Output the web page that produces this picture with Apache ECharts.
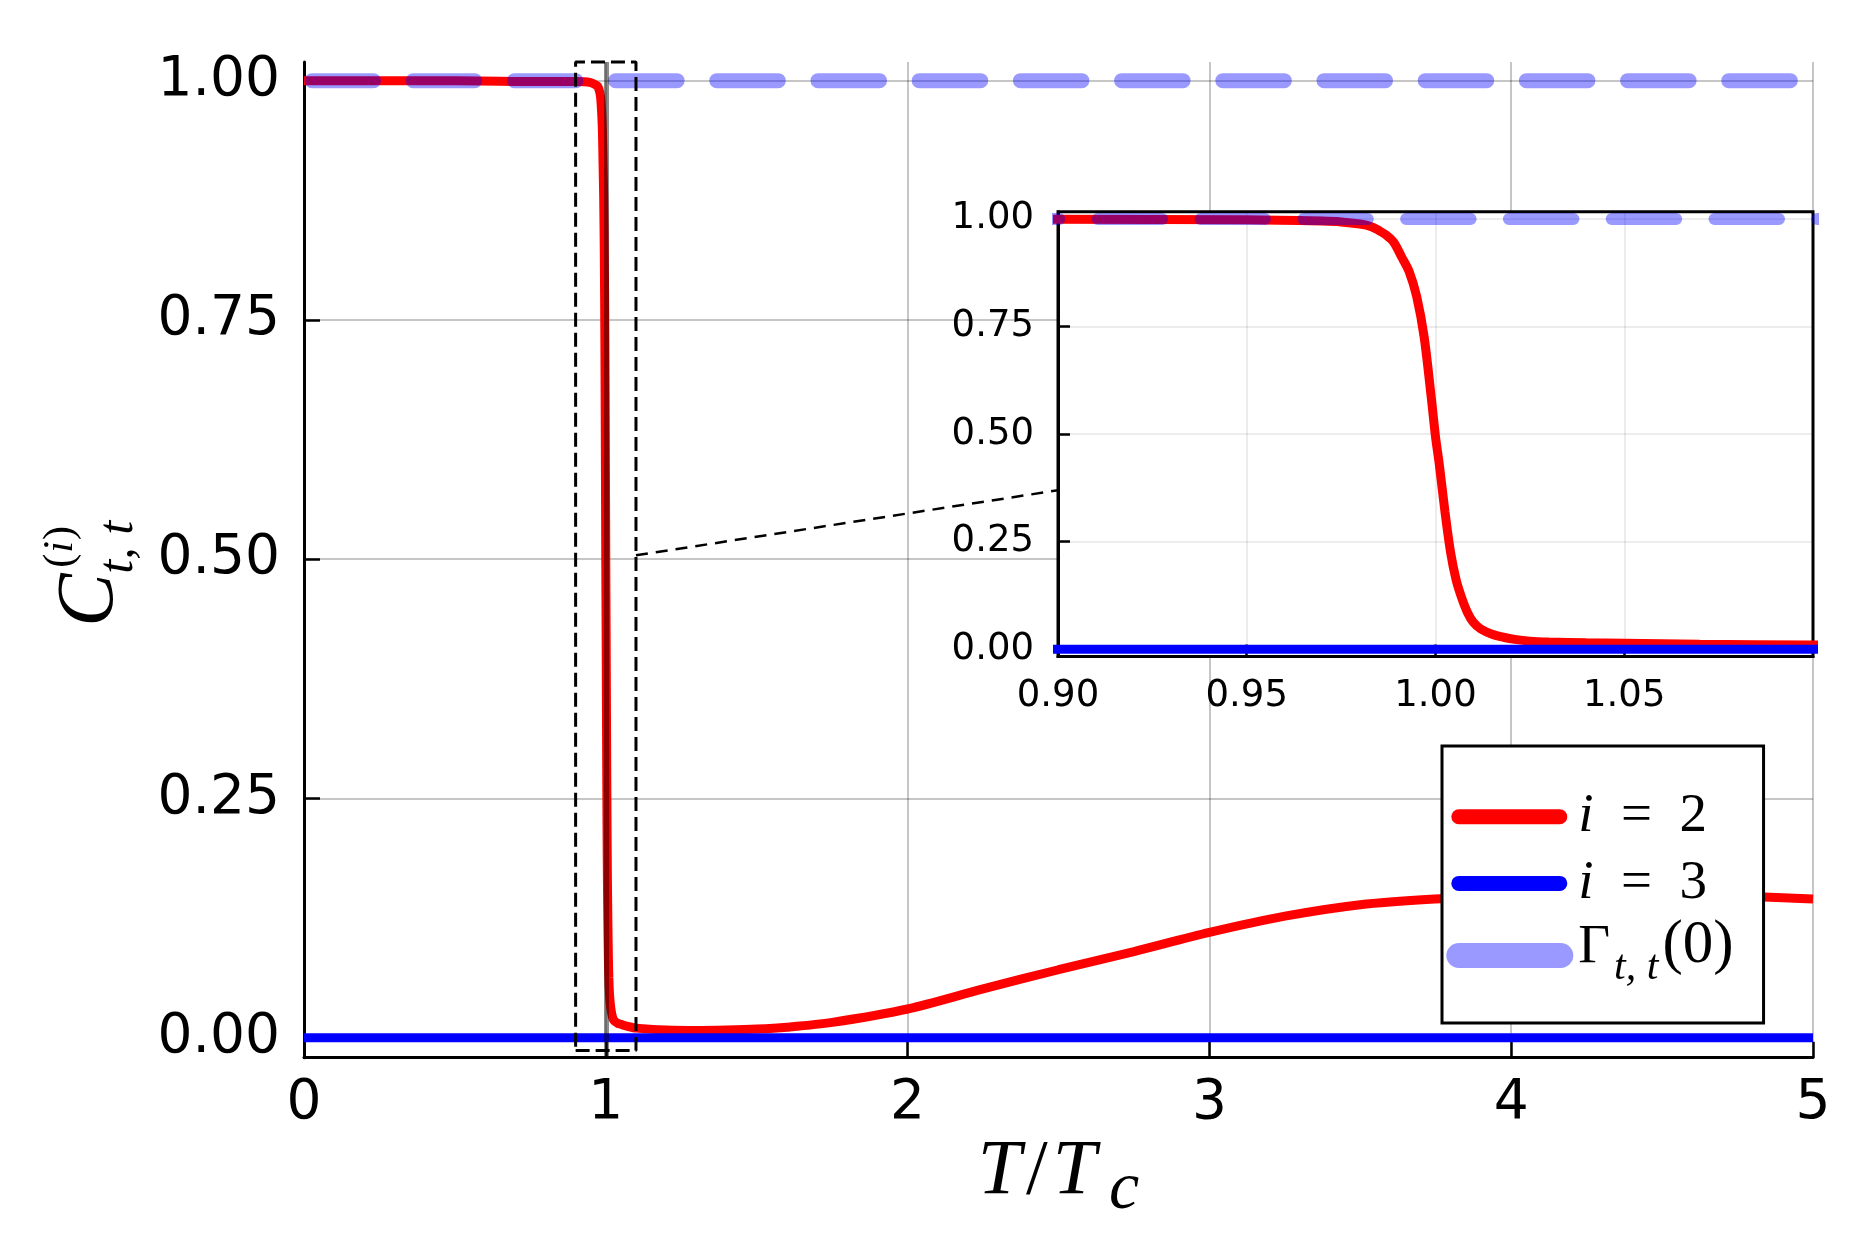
<!DOCTYPE html>
<html><head><meta charset="utf-8">
<script src="https://cdn.jsdelivr.net/npm/echarts@6/dist/echarts.min.js"></script>
<style>html,body{margin:0;padding:0;background:#fff}#c{width:1875px;height:1250px}</style>
</head><body><div id="c"></div><script>
// ---------------- data ----------------
const redX = [0, 0.5, 0.8, 0.9, 0.95, 0.97, 0.975, 0.98, 0.983, 0.985, 0.987, 0.989, 0.991, 0.993, 0.995,
  0.997, 0.999, 1.0, 1.001, 1.0025, 1.004, 1.0055, 1.007, 1.0085, 1.01, 1.012, 1.015, 1.018, 1.021, 1.025,
  1.03, 1.04, 1.05, 1.07, 1.1, 1.2, 1.3, 1.4, 1.5, 1.6, 1.75, 2.0, 2.25, 2.5, 2.75, 3.0, 3.25, 3.5, 3.75,
  4.0, 4.25, 4.5, 4.75, 5.0];
const redY = [1.0, 1.0, 0.999, 0.999, 0.998, 0.995, 0.993, 0.988, 0.982, 0.973, 0.962, 0.945, 0.912, 0.878, 0.82,
  0.725, 0.575, 0.494, 0.43, 0.32, 0.225, 0.16, 0.118, 0.085, 0.063, 0.047, 0.035, 0.028, 0.023, 0.019,
  0.017, 0.015, 0.014, 0.012, 0.010, 0.008, 0.0075, 0.008, 0.009, 0.011, 0.016, 0.030, 0.051, 0.071, 0.090,
  0.110, 0.127, 0.139, 0.145, 0.1485, 0.150, 0.1495, 0.148, 0.145];
const blueX = [0, 5];
const blueY = [0, 0];
const gammaX = [0, 5];
const gammaY = [1, 1];
const vlineX = [1];                       // T = Tc marker
const lensX = [0.9, 1.1];                 // zoom window (x)
const lensY = [-0.0135, 1.0195];          // zoom window (y)
const connX = [1.1, 2.498];               // lens connector
const connY = [0.504, 0.572];
const yTicks = [0, 0.25, 0.5, 0.75, 1.0];
const seriesNames = ['i = 2', 'i = 3', 'Γ(0)'];

// ---------------- helpers ----------------
const zip = (xs, ys) => xs.map((x, i) => [x, ys[i]]);
const lensPoly = [[lensX[0], lensY[0]], [lensX[1], lensY[0]], [lensX[1], lensY[1]], [lensX[0], lensY[1]], [lensX[0], lensY[0]]];
const TICK_FONT = 'DejaVu Sans';
const MATH = 'Liberation Serif';
const RED = '#ff0000', BLUE = '#0000ff', GAMMA = 'rgba(0,0,255,0.4)';

const chart = echarts.init(document.getElementById('c'), null, {renderer: 'canvas'});

const capsule = (x0, x1, y0, y1) => {
  const r = (y1 - y0) / 2;
  return 'path://M0,0 M127,26 M' + (x0 + r) + ',' + y0 + ' L' + (x1 - r) + ',' + y0 +
    ' A' + r + ',' + r + ' 0 0 1 ' + (x1 - r) + ',' + y1 + ' L' + (x0 + r) + ',' + y1 +
    ' A' + r + ',' + r + ' 0 0 1 ' + (x0 + r) + ',' + y0 + ' Z';
};

const legendText = {
  'i = 2': '{it|i}{rm|\u2002=\u20022}',
  'i = 3': '{it|i}{rm|\u2002=\u20023}',
  'Γ(0)': '{g|Γ}{sub|t, t}{p|(0)}'
};

const option = {
  animation: false,
  backgroundColor: '#fff',
  grid: [
    {left: 304, top: 62, right: 62, bottom: 192.3, outerBoundsMode: 'none', containLabel: false},
    {left: 1058, top: 211.7, right: 62, bottom: 593.5, outerBoundsMode: 'none', containLabel: false,
      show: true, backgroundColor: '#fff', borderColor: '#000', borderWidth: 3, z: 10}
  ],
  xAxis: [
    {
      gridIndex: 0, type: 'value', min: 0, max: 5, interval: 1,
      axisLine: {show: true, onZero: false, lineStyle: {color: '#000', width: 3}},
      axisTick: {inside: true, length: 16, lineStyle: {color: '#000', width: 2.5}},
      axisLabel: {color: '#000', fontSize: 55, fontFamily: TICK_FONT, margin: 19},
      splitLine: {show: true, lineStyle: {color: 'rgba(0,0,0,0.3)', width: 1.5}},
      name: '{t|T}{sl|/}{t|T}{c|c}', nameLocation: 'middle', nameGap: 84.8, nameMoveOverlap: false,
      nameTextStyle: {rich: {
        t: {fontFamily: MATH, fontStyle: 'italic', fontSize: 78, height: 60, lineHeight: 60, color: '#000'},
        sl: {fontFamily: MATH, fontSize: 78, height: 60, lineHeight: 60, padding: [0, 5, 0, 5], color: '#000'},
        c: {fontFamily: MATH, fontStyle: 'italic', fontSize: 68, height: 24, lineHeight: 24, verticalAlign: 'bottom',
          padding: [0, 0, 0, 13], color: '#000'}
      }}
    },
    {
      gridIndex: 1, type: 'value', min: 0.9, max: 1.1, interval: 0.05, z: 11,
      axisLine: {show: true, onZero: false, lineStyle: {color: '#000', width: 3}},
      axisTick: {inside: true, length: 12, lineStyle: {color: '#000', width: 2.5}},
      axisLabel: {color: '#000', fontSize: 37, fontFamily: TICK_FONT, margin: 21, showMaxLabel: false,
        formatter: v => v.toFixed(2)},
      splitLine: {show: true, showMaxLine: false, lineStyle: {color: 'rgba(0,0,0,0.1)', width: 1.5}}
    }
  ],
  yAxis: [
    {
      gridIndex: 0, type: 'value', min: -0.0209, max: 1.0195,
      axisLine: {show: true, onZero: false, lineStyle: {color: '#000', width: 3}},
      axisTick: {inside: true, length: 16, customValues: yTicks, lineStyle: {color: '#000', width: 2.5}},
      axisLabel: {color: '#000', fontSize: 55, fontFamily: TICK_FONT, margin: 24, customValues: yTicks,
        formatter: v => v.toFixed(2)},
      splitLine: {show: true, lineStyle: {color: 'rgba(0,0,0,0.3)', width: 1.5}},
      name: '{sp|(}{si|i}{sq|)}\n{c|C}\n{b|t, t}', nameLocation: 'middle', nameRotate: 90, nameGap: 177,
      nameMoveOverlap: false,
      nameTextStyle: {padding: [0, 28, 0, 0], rich: {
        sp: {fontFamily: MATH, fontSize: 42, height: 20, lineHeight: 20, align: 'left', padding: [0, 1, 0, 59], color: '#000'},
        si: {fontFamily: MATH, fontStyle: 'italic', fontSize: 42, height: 20, lineHeight: 20, align: 'left', padding: [0, 1, 0, 0], color: '#000'},
        sq: {fontFamily: MATH, fontSize: 42, height: 20, lineHeight: 20, align: 'left', color: '#000'},
        c: {fontFamily: MATH, fontStyle: 'italic', fontSize: 80, height: 40, lineHeight: 40, align: 'left', color: '#000'},
        b: {fontFamily: MATH, fontStyle: 'italic', fontSize: 50, height: 16, lineHeight: 16, align: 'left',
          padding: [0, 0, 0, 53], color: '#000'}
      }}
    },
    {
      gridIndex: 1, type: 'value', min: -0.0167, max: 1.0167, z: 11,
      axisLine: {show: true, onZero: false, lineStyle: {color: '#000', width: 3}},
      axisTick: {inside: true, length: 12, customValues: yTicks, lineStyle: {color: '#000', width: 2.5}},
      axisLabel: {color: '#000', fontSize: 37, fontFamily: TICK_FONT, margin: 24, customValues: yTicks,
        formatter: v => v.toFixed(2)},
      splitLine: {show: true, lineStyle: {color: 'rgba(0,0,0,0.1)', width: 1.5}}
    }
  ],
  legend: {
    show: true, orient: 'vertical', left: 1442, top: 746, z: 20,
    backgroundColor: '#fff', borderColor: '#000', borderWidth: 3, borderRadius: 0,
    padding: [36.2, 30, 33.1, 4.3], itemGap: -2.3, itemWidth: 127, itemHeight: 26,
    selectedMode: false,
    itemStyle: {borderWidth: 0},
    data: [
      {name: seriesNames[0], icon: capsule(5, 121, 5.5, 20.5)},
      {name: seriesNames[1], icon: capsule(5, 121, 5.5, 20.5)},
      {name: seriesNames[2], icon: capsule(0, 127, 0.5, 25.5)}
    ],
    formatter: name => legendText[name],
    textStyle: {color: '#000', rich: {
      it: {fontFamily: MATH, fontStyle: 'italic', fontSize: 55, height: 69, lineHeight: 69, color: '#000'},
      rm: {fontFamily: MATH, fontSize: 55, height: 69, lineHeight: 69, color: '#000'},
      g: {fontFamily: MATH, fontSize: 55, height: 53.6, lineHeight: 69, verticalAlign: 'top',
        padding: [0, 0, 15.4, 0], color: '#000'},
      p: {fontFamily: MATH, fontSize: 61, height: 50.2, lineHeight: 69, verticalAlign: 'top',
        padding: [0, 0, 18.8, 0], color: '#000'},
      sub: {fontFamily: MATH, fontStyle: 'italic', fontSize: 42, height: 44.2, lineHeight: 69, verticalAlign: 'top',
        padding: [24.8, 4, 0, 4], color: '#000'}
    }}
  },
  series: [
    // ---- main panel ----
    {type: 'line', name: 'Tc', xAxisIndex: 0, yAxisIndex: 0, data: [], z: 1,
      markLine: {silent: true, symbol: ['none', 'none'], label: {show: false},
        lineStyle: {color: 'rgba(0,0,0,0.45)', width: 5, type: 'solid'},
        data: vlineX.map(v => ({xAxis: v}))}},
    {type: 'line', name: seriesNames[0], xAxisIndex: 0, yAxisIndex: 0, data: zip(redX, redY), z: 3,
      symbol: 'none', showSymbol: false, smooth: 0.3, color: RED, lineStyle: {color: RED, width: 9}},
    {type: 'line', name: seriesNames[1], xAxisIndex: 0, yAxisIndex: 0, data: zip(blueX, blueY), z: 3,
      symbol: 'none', showSymbol: false, color: BLUE, lineStyle: {color: BLUE, width: 9}},
    {type: 'line', name: seriesNames[2], xAxisIndex: 0, yAxisIndex: 0, data: zip(gammaX, gammaY), z: 4,
      symbol: 'none', showSymbol: false, color: GAMMA,
      lineStyle: {color: GAMMA, width: 15, type: [61.5, 39.7], dashOffset: 93.2, cap: 'round'}},
    {type: 'line', name: 'lens', xAxisIndex: 0, yAxisIndex: 0, data: lensPoly, z: 5, clip: false,
      symbol: 'none', showSymbol: false, lineStyle: {color: '#000', width: 3, type: [14, 6]}},
    {type: 'line', name: 'conn', xAxisIndex: 0, yAxisIndex: 0, data: zip(connX, connY), z: 5, clip: false,
      symbol: 'none', showSymbol: false, lineStyle: {color: '#000', width: 2.5, type: [12, 8]}},
    // ---- inset ----
    {type: 'line', name: 'Tc inset', xAxisIndex: 1, yAxisIndex: 1, data: [], z: 12,
      markLine: {silent: true, symbol: ['none', 'none'], label: {show: false},
        lineStyle: {color: 'rgba(0,0,0,0.5)', width: 5, type: 'solid'},
        data: vlineX.map(v => ({xAxis: v}))}},
    {type: 'line', name: 'inset red', xAxisIndex: 1, yAxisIndex: 1, data: zip(redX, redY), z: 13,
      symbol: 'none', showSymbol: false, smooth: 0.3, color: RED, lineStyle: {color: RED, width: 9}},
    {type: 'line', name: 'inset blue', xAxisIndex: 1, yAxisIndex: 1, data: zip(blueX, blueY), z: 13,
      symbol: 'none', showSymbol: false, color: BLUE, lineStyle: {color: BLUE, width: 9}},
    {type: 'line', name: 'inset gamma', xAxisIndex: 1, yAxisIndex: 1, data: zip(gammaX, gammaY), z: 14,
      symbol: 'none', showSymbol: false, color: GAMMA,
      lineStyle: {color: GAMMA, width: 12, type: [64.5, 38.3], dashOffset: 58, cap: 'round'}}
  ]
};
chart.setOption(option);
</script></body></html>
